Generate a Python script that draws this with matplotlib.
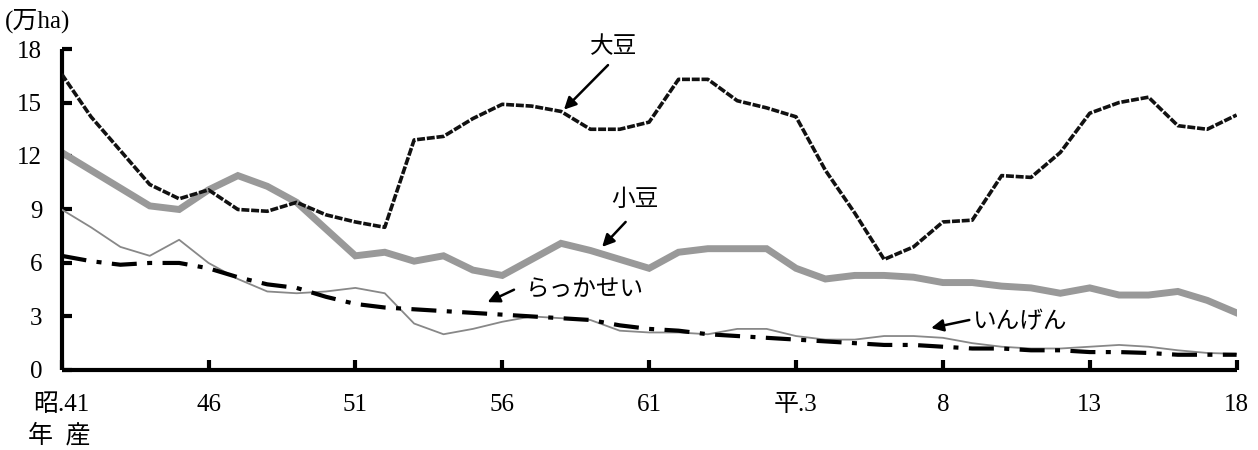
import numpy as np
import matplotlib.pyplot as plt

# Data: planted area (10,000 ha), crop years Showa 41 (1966) .. Heisei 18 (2006)
years = np.arange(1966, 2007)
daizu = [16.6, 14.2, 12.3, 10.4, 9.6, 10.1, 9.0, 8.9, 9.4, 8.7,
         8.3, 8.0, 12.9, 13.1, 14.1, 14.9, 14.8, 14.5, 13.5, 13.5,
         13.9, 16.3, 16.3, 15.1, 14.7, 14.2, 11.2, 8.8, 6.2, 6.9,
         8.3, 8.4, 10.9, 10.8, 12.2, 14.4, 15.0, 15.3, 13.7, 13.5, 14.3]
azuki = [12.2, 11.2, 10.2, 9.2, 9.0, 10.1, 10.9, 10.3, 9.4, 7.9,
         6.4, 6.6, 6.1, 6.4, 5.6, 5.3, 6.2, 7.1, 6.7, 6.2,
         5.7, 6.6, 6.8, 6.8, 6.8, 5.7, 5.1, 5.3, 5.3, 5.2,
         4.9, 4.9, 4.7, 4.6, 4.3, 4.6, 4.2, 4.2, 4.4, 3.9, 3.2]
ingen = [9.0, 8.0, 6.9, 6.4, 7.3, 6.0, 5.1, 4.4, 4.3, 4.4,
         4.6, 4.3, 2.6, 2.0, 2.3, 2.7, 3.0, 2.9, 2.8, 2.2,
         2.1, 2.1, 2.0, 2.3, 2.3, 1.9, 1.7, 1.7, 1.9, 1.9,
         1.8, 1.5, 1.3, 1.2, 1.2, 1.3, 1.4, 1.3, 1.1, 0.95, 0.9]
rakkasei = [6.4, 6.1, 5.9, 6.0, 6.0, 5.7, 5.2, 4.8, 4.6, 4.1,
            3.7, 3.5, 3.4, 3.3, 3.2, 3.1, 3.0, 2.9, 2.8, 2.5,
            2.3, 2.2, 2.0, 1.9, 1.8, 1.7, 1.6, 1.5, 1.4, 1.4,
            1.3, 1.2, 1.2, 1.1, 1.1, 1.0, 1.0, 0.95, 0.85, 0.85, 0.85]

tick_years = [1966, 1971, 1976, 1981, 1986, 1991, 1996, 2001, 2006]
tick_labels = ['昭.41', '46', '51', '56', '61', '平.3', '8', '13', '18']
y_ticks = [0, 3, 6, 9, 12, 15, 18]

serif_jp = ['Liberation Serif', 'Noto Sans CJK JP']
plt.rcParams['font.family'] = serif_jp

fig = plt.figure(figsize=(12.58, 4.5), dpi=100)
ax = fig.add_axes([0.049, 0.178, 0.934, 0.713])

ax.plot(years, azuki, color='#999999', lw=5.0, solid_joinstyle='miter', zorder=2)
ax.plot(years, ingen, color='#888888', lw=1.3, zorder=3)
ax.plot(years, daizu, color='#111111', lw=2.6, linestyle=(0, (2.2, 0.5)), zorder=4)
ax.plot(years, rakkasei, color='black', lw=3.0, linestyle=(0, (6, 2.5, 1.2, 2.5)), zorder=5)

ax.set_xlim(1966, 2006)
ax.set_ylim(0, 18)
ax.set_xticks(tick_years)
ax.set_xticklabels(tick_labels, fontsize=18)
ax.set_yticks(y_ticks)
ax.set_yticklabels([str(v) for v in y_ticks], fontsize=18)

for side in ['top', 'right']:
    ax.spines[side].set_visible(False)
for side in ['left', 'bottom']:
    ax.spines[side].set_linewidth(3)
    ax.spines[side].set_capstyle('butt')
ax.tick_params(axis='both', direction='in', width=3, length=7)
ax.tick_params(axis='x', pad=17)
ax.tick_params(axis='y', pad=14)

fig.text(0.004, 0.953, '(万ha)', fontsize=18, va='center', ha='left')
fig.text(0.022, 0.032, '年  産', fontsize=18, va='center', ha='left')

arrow = dict(arrowstyle='-|>', color='black', lw=1.8, mutation_scale=18,
             shrinkA=0, shrinkB=0)

# 大豆
ax.annotate('', xy=(1983.1, 14.6), xytext=(1984.6, 17.1), arrowprops=arrow, annotation_clip=False)
ax.text(1984.8, 18.1, '大豆', fontsize=17, ha='center', va='center')
# 小豆
ax.annotate('', xy=(1984.4, 6.9), xytext=(1985.2, 8.3), arrowprops=arrow)
ax.text(1985.5, 9.5, '小豆', fontsize=17, ha='center', va='center')
# らっかせい
ax.annotate('', xy=(1980.5, 3.8), xytext=(1981.4, 4.5), arrowprops=arrow)
ax.text(1981.8, 4.4, 'らっかせい', fontsize=17, ha='left', va='center')
# いんげん
ax.annotate('', xy=(1995.6, 2.35), xytext=(1996.9, 2.8), arrowprops=arrow)
ax.text(1997.0, 2.65, 'いんげん', fontsize=17, ha='left', va='center')

fig.savefig('out.png', dpi=100)
